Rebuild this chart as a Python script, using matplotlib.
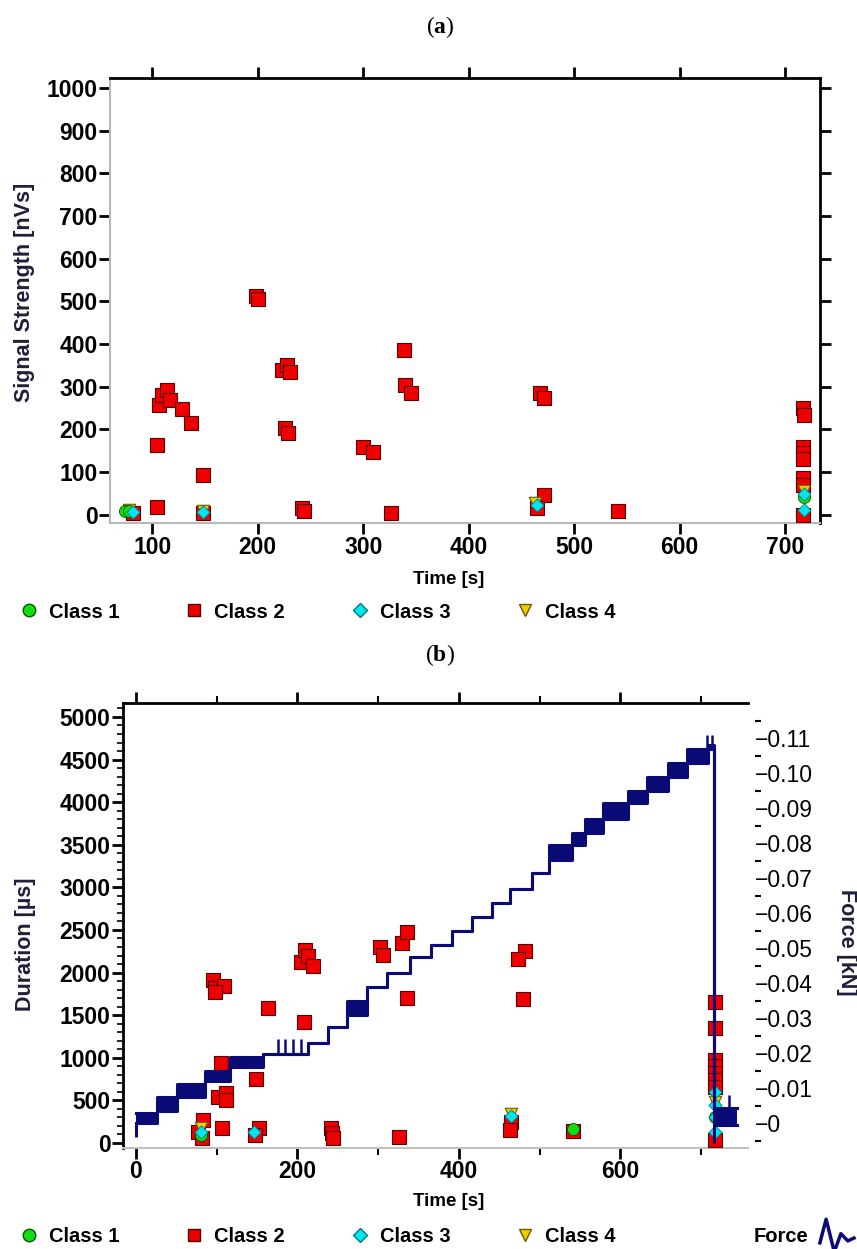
import numpy as np
import matplotlib.pyplot as plt
from matplotlib.lines import Line2D
from matplotlib.path import Path
from matplotlib.ticker import MultipleLocator, FuncFormatter

plt.rcParams['font.family'] = ['Liberation Sans', 'DejaVu Sans']
plt.rcParams['mathtext.fontset'] = 'custom'
plt.rcParams['mathtext.rm'] = 'Liberation Serif'
plt.rcParams['mathtext.bf'] = 'Liberation Serif:bold'

# ---- (a) signal strength vs time ----
a_c1_t = [74, 78, 718]
a_c1_s = [8, 8, 42]
a_c2_t = [198, 200, 339, 340, 345, 223, 228, 231, 226, 229, 300, 309, 326,
          242, 244, 105, 105, 106, 109, 114, 117, 128, 137, 148, 148, 82,
          468, 471, 471, 465, 542, 717, 718, 717, 717, 717, 717, 717, 717]
a_c2_s = [512, 505, 386, 304, 286, 340, 351, 335, 204, 192, 159, 148, 5,
          16, 9, 164, 19, 258, 281, 293, 269, 248, 215, 94, 5, 5,
          286, 274, 47, 16, 9, 251, 234, 159, 145, 131, 87, 70, 0]
a_c3_t = [82, 148, 465, 718, 718]
a_c3_s = [6, 6, 22, 48, 12]
a_c4_t = [78, 148, 463, 718]
a_c4_s = [12, 10, 28, 55]

# ---- (b) duration vs time ----
b_c1_t = [81, 541, 717]
b_c1_d = [94, 165, 300]
b_c2_t = [95.5, 98, 109, 98, 105, 102, 111, 111, 106, 83, 77, 82, 149, 153,
          147, 163, 208, 205, 209, 213, 219, 241, 243, 244, 326, 302, 306,
          329, 336, 336, 482, 473, 479, 464, 463, 541,
          717, 717, 717, 717, 717, 717, 717, 717]
b_c2_d = [1913, 1819, 1843, 1772, 939, 540, 587, 505, 176, 270, 129, 59, 751,
          176, 94, 1584, 1420, 2124, 2265, 2195, 2077, 176, 117, 59, 70, 2300,
          2206, 2347, 2476, 1702, 2253, 2159, 1690, 246, 153, 141,
          1655, 1350, 974, 900, 820, 740, 660, 35]
b_c3_t = [80, 146, 464, 717, 717, 717, 717]
b_c3_d = [129, 129, 320, 600, 450, 300, 130]
b_c4_t = [80, 464, 717]
b_c4_d = [170, 340, 480]

# force staircase (kN, magnitude), band low / high edge per step
force_t = [0, 26, 51, 85, 117, 157, 213, 238, 262, 286, 311, 340, 366, 391,
           416, 441, 463, 491, 511, 540, 556, 579, 610, 633, 659, 683, 708,
           716, 744]
force_lo = [0.0000, 0.0035, 0.0075, 0.0120, 0.0160, 0.0197, 0.0230, 0.0275,
            0.0310, 0.0390, 0.0430, 0.0475, 0.0510, 0.0550, 0.0590, 0.0630,
            0.0670, 0.0714, 0.0751, 0.0794, 0.0830, 0.0870, 0.0914, 0.0950,
            0.0990, 0.1030, 0.1070, -0.0006, -0.0006]
force_hi = [0.0030, 0.0075, 0.0112, 0.0150, 0.0190, 0.0197, 0.0230, 0.0275,
            0.0350, 0.0390, 0.0430, 0.0475, 0.0510, 0.0550, 0.0590, 0.0630,
            0.0670, 0.0714, 0.0794, 0.0830, 0.0870, 0.0914, 0.0950, 0.0990,
            0.1030, 0.1070, 0.1080, 0.0043, 0.0043]
force_start = -0.004
force_drop_t = 716
force_drop_min = -0.0057
spike_t = [176, 185, 195, 205, 707, 714, 735]
spike_top = [0.024, 0.024, 0.024, 0.024, 0.111, 0.111, 0.008]

RED, GREEN, CYAN, YELLOW, NAVY = '#ee0000', '#11dd11', '#00e5ee', '#f0cc00', '#0b0b78'
LABEL_C = '#1f1f3a'
FS = 14.5       # legend text
TICK_FS = 16.5  # tick labels


def draw_classes(ax, c1, c2, c3, c4):
    ax.scatter(*c2, marker='s', s=100, c=RED, edgecolors='#5a0000', linewidths=0.8, zorder=3)
    ax.scatter(*c4, marker='v', s=80, c=YELLOW, edgecolors='#6a5a00', linewidths=0.8, zorder=4)
    ax.scatter(*c1, marker='o', s=75, c=GREEN, edgecolors='#005500', linewidths=0.6, zorder=5)
    ax.scatter(*c3, marker='D', s=45, c=CYAN, edgecolors='#007a80', linewidths=0.6, zorder=6)


def class_legend(y_px):
    handles = [
        Line2D([], [], ls='None', marker='o', ms=9, mfc=GREEN, mec='#005500'),
        Line2D([], [], ls='None', marker='s', ms=9, mfc=RED, mec='#5a0000'),
        Line2D([], [], ls='None', marker='D', ms=7, mfc=CYAN, mec='#007a80'),
        Line2D([], [], ls='None', marker='v', ms=9, mfc=YELLOW, mec='#6a5a00'),
    ]
    fig.legend(handles, ['Class 1', 'Class 2', 'Class 3', 'Class 4'], ncol=4,
               loc='center left', bbox_to_anchor=(19 / 857, 1 - y_px / 1249),
               frameon=False, handlelength=1.0, handletextpad=0.5,
               columnspacing=3.2, prop={'size': FS, 'weight': 'bold'},
               borderaxespad=0, borderpad=0)


fig = plt.figure(figsize=(8.57, 12.49), dpi=100)
ax1 = fig.add_axes([110 / 857, 1 - 523 / 1249, 710 / 857, 445 / 1249])
ax2 = fig.add_axes([123 / 857, 1 - 1148 / 1249, 625 / 857, 445 / 1249])

# ---- panel (a) ----
draw_classes(ax1, (a_c1_t, a_c1_s), (a_c2_t, a_c2_s), (a_c3_t, a_c3_s), (a_c4_t, a_c4_s))
ax1.set_xlim(60, 733)
ax1.set_ylim(-19, 1023)
ax1.set_xticks(range(100, 701, 100))
ax1.set_yticks(range(0, 1001, 100))
ax1.tick_params(direction='out', top=True, right=True, labeltop=False,
                labelright=False, length=8, width=2, pad=1, labelsize=TICK_FS)
for lab in ax1.get_xticklabels() + ax1.get_yticklabels():
    lab.set_fontweight('bold')
for s in ['left', 'bottom']:
    ax1.spines[s].set_color('#b8b8b8')
    ax1.spines[s].set_linewidth(1.5)
for s in ['top', 'right']:
    ax1.spines[s].set_linewidth(2)

# ---- panel (b) ----
draw_classes(ax2, (b_c1_t, b_c1_d), (b_c2_t, b_c2_d), (b_c3_t, b_c3_d), (b_c4_t, b_c4_d))
ax2.set_xlim(-16, 758)
ax2.set_ylim(-59, 5164)
ax2.xaxis.set_major_locator(MultipleLocator(200))
ax2.xaxis.set_minor_locator(MultipleLocator(100))
ax2.yaxis.set_major_locator(MultipleLocator(500))
ax2.yaxis.set_minor_locator(MultipleLocator(100))
ax2.tick_params(which='both', direction='out', top=True, right=False,
                labeltop=False, width=2, pad=1, labelsize=TICK_FS)
ax2.tick_params(which='major', length=8)
ax2.tick_params(which='minor', length=5, width=1.5)
ax2.tick_params(axis='y', which='minor', length=4, width=1.2)
for lab in ax2.get_xticklabels() + ax2.get_yticklabels():
    lab.set_fontweight('bold')
ax2.spines['right'].set_visible(False)
ax2.spines['bottom'].set_color('#c0c0c0')
ax2.spines['bottom'].set_linewidth(1.5)
for s in ['top', 'left']:
    ax2.spines[s].set_linewidth(2)

axf = ax2.twinx()
axf.set_ylim(-0.00714, 0.12)
for s in axf.spines.values():
    s.set_visible(False)
axf.spines['right'].set_position(('outward', 5))
axf.set_yticks(np.round(np.arange(0, 0.111, 0.01), 2))
axf.set_yticks(np.round(np.arange(-0.005, 0.12, 0.01), 3), minor=True)
axf.yaxis.set_major_formatter(FuncFormatter(lambda v, p: '\u22120' if abs(v) < 1e-9 else f'\u2212{v:.2f}'))
axf.tick_params(axis='y', which='major', length=0, pad=0, labelsize=TICK_FS)
axf.tick_params(axis='y', which='minor', length=4, width=1.5)

axf.fill_between(force_t, force_lo, force_hi, step='post', color=NAVY, lw=0)
axf.step(force_t, force_lo, where='post', color=NAVY, lw=2.2)
axf.step(force_t, force_hi, where='post', color=NAVY, lw=2.2)
axf.vlines(force_t[0], force_start, force_lo[0], color=NAVY, lw=2.2)
axf.vlines(force_drop_t, force_drop_min, force_hi[-3], color=NAVY, lw=2.2)
spike_base = [force_lo[np.searchsorted(force_t, t, side='right') - 1] for t in spike_t]
axf.vlines(spike_t, spike_base, spike_top, color=NAVY, lw=1.8)

# ---- labels ----
fig.text(440 / 857, 1 - 27 / 1249, r'($\mathbf{a}$)', fontsize=17,
         family='Liberation Serif', ha='center', va='center')
fig.text(440 / 857, 1 - 655 / 1249, r'($\mathbf{b}$)', fontsize=17,
         family='Liberation Serif', ha='center', va='center')
fig.text(25 / 857, 1 - 292 / 1249, 'Signal Strength [nVs]', rotation=90,
         ha='center', va='center', fontsize=15.5, fontweight='bold', color=LABEL_C)
fig.text(449 / 857, 1 - 579 / 1249, 'Time [s]', ha='center', va='center',
         fontsize=13.5, fontweight='bold')
fig.text(25 / 857, 1 - 944 / 1249, 'Duration [\u00b5s]', rotation=90,
         ha='center', va='center', fontsize=15.5, fontweight='bold', color=LABEL_C)
fig.text(449 / 857, 1 - 1202 / 1249, 'Time [s]', ha='center', va='center',
         fontsize=13.5, fontweight='bold')
fig.text(846 / 857, 1 - 942 / 1249, 'Force [kN]', rotation=270,
         ha='center', va='center', fontsize=15.5, fontweight='bold', color=LABEL_C)

class_legend(612)
class_legend(1237)

wave = Path([(-1, -0.5), (-0.63, 0.9), (-0.18, -0.9), (0.19, 0.1), (0.57, -0.3), (1, -0.1)])
force_handle = Line2D([], [], ls='None', marker=wave, ms=26, mfc='none', mec=NAVY, mew=2.5)
fig.legend([force_handle], ['Force'], loc='center right', markerfirst=False,
           bbox_to_anchor=(857 / 857, 1 - 1237 / 1249), frameon=False,
           handlelength=2.0, handletextpad=0.4, prop={'size': FS, 'weight': 'bold'},
           borderaxespad=0, borderpad=0)

fig.savefig('out.png', dpi=100)
